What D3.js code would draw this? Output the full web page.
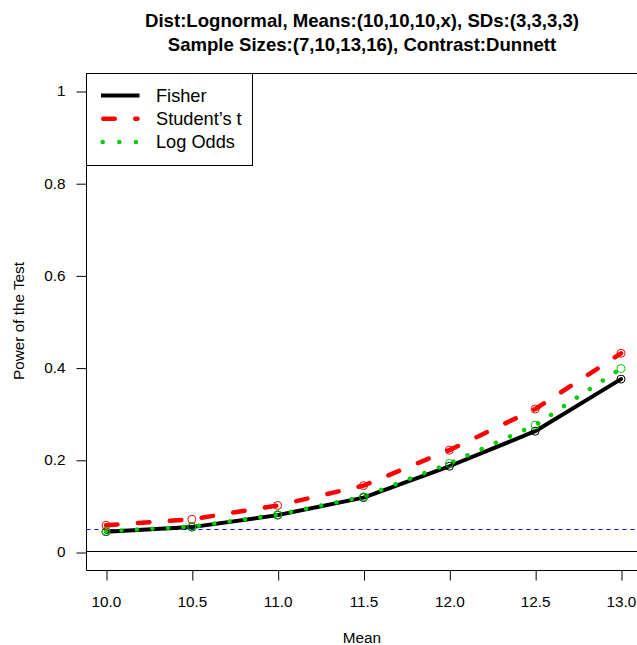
<!DOCTYPE html>
<html><head><meta charset="utf-8">
<script src="https://cdn.jsdelivr.net/npm/d3@7"></script>
<style>body{margin:0;background:#fff}svg{display:block}text{font-family:"Liberation Sans",Arial,sans-serif}</style>
</head><body><svg id="c" width="637" height="645"></svg>
<script>
const means = [10.0, 10.5, 11.0, 11.5, 12.0, 12.5, 13.0];
const fisher = [0.044, 0.054, 0.080, 0.118, 0.186, 0.262, 0.375];
const studentT = [0.058, 0.071, 0.101, 0.144, 0.221, 0.310, 0.431];
const logOdds = [0.045, 0.055, 0.081, 0.120, 0.192, 0.275, 0.398];
const xTicks = [10.0, 10.5, 11.0, 11.5, 12.0, 12.5, 13.0];
const yTicks = [0, 0.2, 0.4, 0.6, 0.8, 1];
const seriesNames = ["Fisher", "Student\u2019s t", "Log Odds"];
const titleLines = ["Dist:Lognormal, Means:(10,10,10,x), SDs:(3,3,3,3)", "Sample Sizes:(7,10,13,16), Contrast:Dunnett"];
const alphaLevel = 0.05;

const svg = d3.select("#c");
const x = d3.scaleLinear().domain([10, 13]).range([106, 621]);
const y = d3.scaleLinear().domain([0, 1]).range([552, 91]);
const crisp = v => Math.round(v) + 0.5;
const yTop = crisp(y(1.04)), yBot = crisp(y(-0.04)), xL = 86.5;

const styles = [
  {c: "#000000", w: 4, dash: null},
  {c: "#FF0000", w: 4.5, dash: "11.5,20.5"},
  {c: "#00CD00", w: 4.5, dash: "0.01,15.5"}
];
const data = [fisher, studentT, logOdds];

// title
titleLines.forEach((t, i) => svg.append("text").attr("x", 362).attr("y", 26.5 + i * 24)
  .attr("text-anchor", "middle").attr("font-weight", "bold").attr("font-size", 18.6).text(t));

// reference lines
svg.append("line").attr("x1", xL).attr("x2", 637).attr("y1", crisp(y(0)) - 1).attr("y2", crisp(y(0)) - 1)
  .attr("stroke", "#000").attr("stroke-width", 1);
svg.append("line").attr("x1", xL).attr("x2", 637).attr("y1", crisp(y(alphaLevel))).attr("y2", crisp(y(alphaLevel)))
  .attr("stroke", "#0000FF").attr("stroke-width", 1).attr("stroke-dasharray", "4,4");

// series
const line = d3.line().x((d, i) => x(means[i])).y(d => y(d));
data.forEach((arr, k) => {
  const s = styles[k];
  svg.append("path").datum(arr).attr("d", line).attr("fill", "none")
    .attr("stroke", s.c).attr("stroke-width", s.w).attr("stroke-linecap", "round")
    .attr("stroke-linejoin", "round").attr("stroke-dasharray", s.dash);
});
data.forEach((arr, k) => {
  svg.append("g").selectAll("circle").data(arr).join("circle")
    .attr("cx", (d, i) => x(means[i])).attr("cy", d => y(d)).attr("r", 4)
    .attr("fill", "none").attr("stroke", styles[k].c).attr("stroke-width", 1);
});

// box
svg.append("path").attr("d", `M637,${yTop}H${xL}V${yBot}H637`).attr("fill", "none")
  .attr("stroke", "#000").attr("stroke-width", 1);

// axes
const xa = svg.append("g").attr("transform", `translate(0,${yBot})`)
  .call(d3.axisBottom(x).tickValues(xTicks).tickSize(10).tickPadding(20).tickFormat(d3.format(".1f")));
xa.select(".domain").remove();
xa.selectAll("line").attr("transform", "translate(0.5,0)");
xa.selectAll("text").attr("font-size", 15.3).attr("font-family", "Liberation Sans, Arial, sans-serif").attr("fill", "#000").attr("dy", "0.35em").attr("y", 31);
const ya = svg.append("g").attr("transform", `translate(${xL},0)`)
  .call(d3.axisLeft(y).tickValues(yTicks).tickSize(10).tickPadding(10).tickFormat(d => d === 0 || d === 1 ? String(d) : d3.format(".1f")(d)));
ya.select(".domain").remove();
ya.selectAll("line").attr("transform", "translate(0,0.5)");
ya.selectAll("text").attr("font-size", 15.3).attr("font-family", "Liberation Sans, Arial, sans-serif").attr("fill", "#000").attr("x", -21);

// axis titles
svg.append("text").attr("x", 362).attr("y", 643).attr("text-anchor", "middle").attr("font-size", 15.3).text("Mean");
svg.append("text").attr("transform", "translate(23.5,321) rotate(-90)").attr("text-anchor", "middle").attr("font-size", 15.3).text("Power of the Test");

// legend
const lg = svg.append("g");
lg.append("rect").attr("x", xL).attr("y", yTop).attr("width", 166).attr("height", 165.5 - yTop)
  .attr("fill", "#fff").attr("stroke", "#000").attr("stroke-width", 1);
const legX1 = [101, 103.25, 102.7], legX2 = [139.5, 137.5, 139.5];
seriesNames.forEach((n, k) => {
  const yy = 95.5 + k * 23.3, s = styles[k];
  lg.append("line").attr("x1", legX1[k]).attr("x2", legX2[k]).attr("y1", yy).attr("y2", yy)
    .attr("stroke", s.c).attr("stroke-width", s.w).attr("stroke-linecap", k === 0 ? "butt" : "round")
    .attr("stroke-dasharray", k === 1 ? "11.5,20.5" : k === 2 ? "0.01,16.6" : null);
  lg.append("text").attr("x", 156).attr("y", yy).attr("dy", "0.35em").attr("font-size", 18.2).text(n);
});
</script></body></html>
